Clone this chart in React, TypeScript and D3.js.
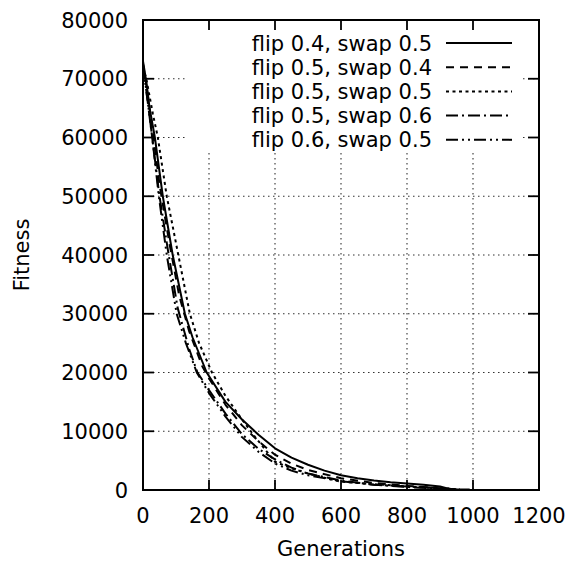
import React from 'react'
import * as d3 from 'd3'

// fitness vs generations (every series is [generation, fitness])
const seriesNames = [
  'flip 0.4, swap 0.5',
  'flip 0.5, swap 0.4',
  'flip 0.5, swap 0.5',
  'flip 0.5, swap 0.6',
  'flip 0.6, swap 0.5',
]

const flip04swap05 = [
  [0, 73000], [10, 69500], [20, 65000], [36, 60000], [60, 50000], [90, 40000], [127, 30000],
  [150, 26000], [193, 20000], [250, 15000], [300, 12000], [350, 9400], [400, 7100], [450, 5500],
  [500, 4300], [550, 3300], [600, 2500], [650, 2000], [700, 1600], [750, 1300], [800, 1100],
  [850, 900], [900, 600], [920, 300], [940, 100], [990, 100],
]
const flip05swap04 = [
  [0, 72500], [10, 69000], [30, 61000], [50, 52000], [80, 42000], [110, 33000], [140, 27000],
  [180, 21000], [200, 19000], [250, 14500], [300, 11000], [350, 8300], [400, 6000], [450, 4500],
  [500, 3400], [600, 2000], [700, 1200], [800, 700], [900, 300], [950, 100],
]
const flip05swap05 = [
  [0, 72000], [10, 70000], [30, 64000], [45, 60000], [72, 50000], [107, 40000], [142, 30000],
  [170, 25000], [209, 20000], [250, 16000], [300, 12000], [340, 9000], [400, 4800], [450, 3700],
  [500, 2800], [600, 1400], [700, 1000], [800, 600], [900, 300], [960, 100],
]
const flip05swap06 = [
  [0, 72000], [10, 68000], [30, 59000], [50, 50000], [75, 41000], [105, 31000], [140, 24000],
  [165, 20000], [200, 17000], [250, 13000], [300, 9500], [350, 7000], [400, 5200], [450, 3800],
  [500, 2800], [600, 1600], [700, 900], [800, 500], [900, 200], [940, 100],
]
const flip06swap05 = [
  [0, 72500], [10, 68000], [28, 60000], [48, 50000], [72, 40000], [102, 30000], [130, 25000],
  [163, 20000], [200, 16500], [250, 12500], [300, 9000], [350, 6500], [400, 4500], [450, 3300],
  [500, 2500], [600, 1500], [700, 900], [800, 600], [900, 300], [950, 100],
]

const seriesData = [flip04swap05, flip05swap04, flip05swap05, flip05swap06, flip06swap05]
const dashes = ['none', '8,6', '3,3.5', '12,4,2,4', '12,4,2,4,2,4']

const xTicks = [0, 200, 400, 600, 800, 1000, 1200]
const yTicks = [0, 10000, 20000, 30000, 40000, 50000, 60000, 70000, 80000]

const W = 569
const H = 562
const margin = { top: 20, right: 30, bottom: 72, left: 143 }
const font = 'DejaVu Sans'

export default function App() {
  const x = d3.scaleLinear().domain([0, 1200]).range([margin.left, W - margin.right])
  const y = d3.scaleLinear().domain([0, 80000]).range([H - margin.bottom, margin.top])
  const line = d3.line<number[]>().x(d => x(d[0])).y(d => y(d[1]))

  // key box hides the grid behind it
  const key = { x0: 186, x1: 523, y0: margin.top, y1: 153 }
  const rowY = (i: number) => 43 + i * 24.2

  const gridStyle = { stroke: '#333', strokeWidth: 1.1, strokeDasharray: '1.5,3.5' }

  return (
    <svg width={W} height={H} style={{ position: 'absolute', left: 0, top: 0, background: '#fff' }}
      fontFamily={font}>
      <rect width={W} height={H} fill="#fff" />
      {/* grid */}
      {yTicks.slice(1, -1).map(t => {
        const yy = y(t)
        if (yy >= key.y0 && yy <= key.y1) {
          return (
            <g key={'gy' + t}>
              <line x1={x(0)} x2={key.x0} y1={yy} y2={yy} {...gridStyle} />
              <line x1={key.x1} x2={x(1200)} y1={yy} y2={yy} {...gridStyle} />
            </g>
          )
        }
        return <line key={'gy' + t} x1={x(0)} x2={x(1200)} y1={yy} y2={yy} {...gridStyle} />
      })}
      {xTicks.slice(1, -1).map(t => {
        const xx = x(t)
        const top = xx >= key.x0 && xx <= key.x1 ? key.y1 : y(80000)
        return <line key={'gx' + t} x1={xx} x2={xx} y1={top} y2={y(0)} {...gridStyle} />
      })}

      {/* ticks, mirrored on top and right */}
      {xTicks.map(t => (
        <g key={'tx' + t} stroke="#000" strokeWidth={1.8}>
          <line x1={x(t)} x2={x(t)} y1={y(0)} y2={y(0) - 10} />
          <line x1={x(t)} x2={x(t)} y1={y(80000)} y2={y(80000) + 10} />
        </g>
      ))}
      {yTicks.map(t => (
        <g key={'ty' + t} stroke="#000" strokeWidth={1.8}>
          <line x1={x(0)} x2={x(0) + 11} y1={y(t)} y2={y(t)} />
          <line x1={x(1200)} x2={x(1200) - 11} y1={y(t)} y2={y(t)} />
        </g>
      ))}

      {/* curves */}
      {seriesData.map((s, i) => (
        <path key={'s' + i} d={line(s) || ''} fill="none" stroke="#000" strokeWidth={2}
          strokeDasharray={dashes[i]} strokeLinejoin="round" />
      ))}

      {/* frame */}
      <rect x={x(0)} y={y(80000)} width={x(1200) - x(0)} height={y(0) - y(80000)}
        fill="none" stroke="#000" strokeWidth={2} />

      {/* tick labels */}
      {xTicks.map(t => (
        <text key={'lx' + t} x={x(t)} y={523} textAnchor="middle" fontSize={21} fill="#000">{t}</text>
      ))}
      {yTicks.map(t => (
        <text key={'ly' + t} x={128} y={y(t) + 7.5} textAnchor="end" fontSize={21} fill="#000">{t}</text>
      ))}

      {/* axis titles */}
      <text x={(x(0) + x(1200)) / 2} y={556} textAnchor="middle" fontSize={21} fill="#000">Generations</text>
      <text transform={`translate(29, ${(y(0) + y(80000)) / 2}) rotate(-90)`} textAnchor="middle"
        fontSize={21} fill="#000">Fitness</text>

      {/* key */}
      {seriesNames.map((name, i) => (
        <g key={'k' + i}>
          <text x={432} y={rowY(i) + 7.5} textAnchor="end" fontSize={21} fill="#000">{name}</text>
          <line x1={446} x2={512} y1={rowY(i)} y2={rowY(i)} stroke="#000" strokeWidth={2}
            strokeDasharray={dashes[i]} />
        </g>
      ))}
    </svg>
  )
}
